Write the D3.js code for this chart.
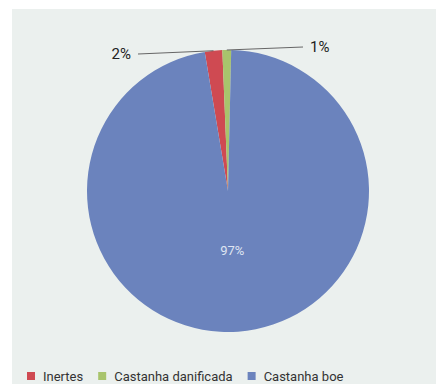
<!DOCTYPE html>
<html lang="pt">
<head>
    <meta charset="UTF-8">
    <title>Castanha</title>
    <script src="https://d3js.org/d3.v7.min.js"></script>
    <style>
        body { margin: 0; background: #fff; }
        text { font-family: Roboto, "Noto Sans", sans-serif; }
    </style>
</head>
<body>
    <div id="chart"></div>
<script>
    // data
    const categories = ["Inertes", "Castanha danificada", "Castanha boe"];
    const values = [2, 1, 97];
    const labels = ["2%", "1%", "97%"];
    const colors = ["#cf4a52", "#a8c46c", "#6b83bd"];

    const W = 436, H = 384;
    const cx = 228, cy = 191, r = 141;

    const svg = d3.select("#chart").append("svg")
        .attr("width", W).attr("height", H);

    // scanned page panel
    svg.append("rect")
        .attr("x", 12).attr("y", 9)
        .attr("width", W - 12).attr("height", H - 9)
        .attr("fill", "#ebf0ee");

    const data = categories.map((c, i) => ({ key: c, value: values[i], label: labels[i], color: colors[i] }));

    const start = -9.5 * Math.PI / 180;
    const pie = d3.pie().sort(null).value(d => d.value)
        .startAngle(start).endAngle(start + 2 * Math.PI);
    const arcs = pie(data);
    const arc = d3.arc().innerRadius(0).outerRadius(r);

    const g = svg.append("g").attr("transform", `translate(${cx},${cy})`);

    g.selectAll("path")
        .data(arcs).enter()
        .append("path")
        .attr("d", arc)
        .attr("fill", d => d.data.color);

    // inside label for the big slice
    const inner = d3.arc().innerRadius(r * 0.42).outerRadius(r * 0.42);
    g.selectAll(".inlab")
        .data(arcs.filter(d => d.data.value > 10)).enter()
        .append("text")
        .attr("class", "inlab")
        .attr("transform", d => `translate(${inner.centroid(d)})`)
        .attr("text-anchor", "middle")
        .attr("dy", "0.35em")
        .attr("font-size", 13)
        .attr("fill", "#dfe5f2")
        .text(d => d.data.label);

    // leader lines for small slices: first goes left, second goes right
    const small = arcs.filter(d => d.data.value <= 10);
    const edge = d3.arc().innerRadius(r).outerRadius(r);
    const side = d => (d.index === 0 ? -1 : 1);
    const lineEnd = d => side(d) < 0 ? [-90, -137] : [75, -144];

    g.selectAll(".lead")
        .data(small).enter()
        .append("line")
        .attr("x1", d => edge.centroid(d)[0])
        .attr("y1", d => edge.centroid(d)[1])
        .attr("x2", d => lineEnd(d)[0])
        .attr("y2", d => lineEnd(d)[1])
        .attr("stroke", "#666")
        .attr("stroke-width", 1);

    g.selectAll(".outlab")
        .data(small).enter()
        .append("text")
        .attr("x", d => lineEnd(d)[0] + side(d) * 7)
        .attr("y", d => lineEnd(d)[1])
        .attr("dy", "0.35em")
        .attr("text-anchor", d => side(d) < 0 ? "end" : "start")
        .attr("font-size", 15)
        .attr("fill", "#222")
        .text(d => d.data.label);

    // legend
    const legend = svg.append("g").attr("transform", "translate(27,376)");
    let lx = 0;
    data.forEach(d => {
        const item = legend.append("g").attr("transform", `translate(${lx},0)`);
        item.append("rect")
            .attr("x", 0).attr("y", -4)
            .attr("width", 8).attr("height", 8)
            .attr("fill", d.color);
        const t = item.append("text")
            .attr("x", 16).attr("dy", "0.35em")
            .attr("font-size", 13)
            .attr("fill", "#333")
            .text(d.key);
        lx += 16 + t.node().getComputedTextLength() + 15;
    });
</script>
</body>
</html>
